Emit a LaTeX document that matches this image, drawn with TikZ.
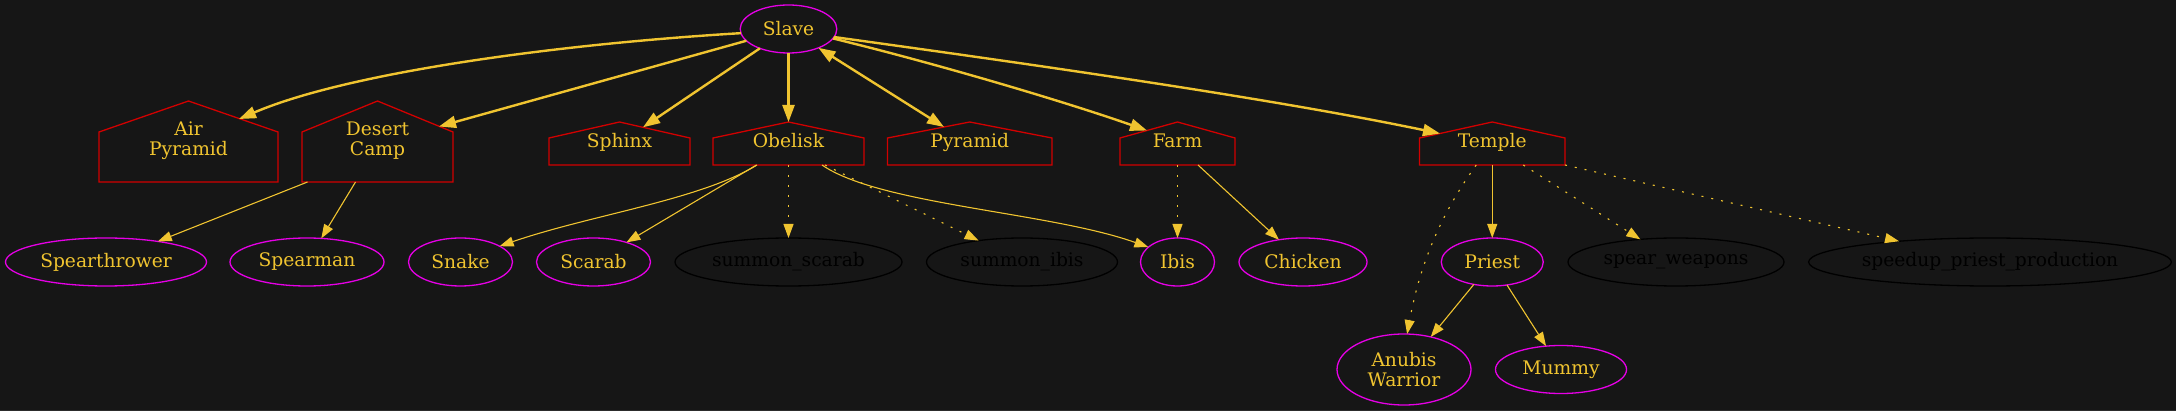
\documentclass[tikz,border=0pt]{standalone}
\usepackage{fontspec}
\setmainfont{DejaVu Serif}
\usetikzlibrary{arrows.meta,calc,shapes.geometric}
\definecolor{bg}{HTML}{161616}
\definecolor{gold}{HTML}{F0C430}
\definecolor{mag}{HTML}{E600E6}
\definecolor{hred}{HTML}{D20000}
\definecolor{edgegray}{HTML}{2C2C2C}
\newcommand\houseoutline[2]{\draw[houseline] (#1.south west) -- (#1.south east) -- ($(#1.north east)+(0,#2)$) -- (#1.north) -- ($(#1.north west)+(0,#2)$) -- cycle;}
\newcommand\htext[2]{\raisebox{#1}{\begin{tabular}{@{}c@{}}#2\end{tabular}}}
\begin{document}
\begin{tikzpicture}[x=1pt,y=-1pt,
  every node/.style={font=\fontsize{18.67}{20}\selectfont},
  unit/.style={ellipse, draw=mag, line width=1.3pt, text=gold, inner sep=0pt, outer sep=0pt, minimum height=48pt, align=center},
  tech/.style={ellipse, draw=black, line width=1.3pt, text=black, inner sep=0pt, outer sep=0pt, minimum height=48pt},
  hbox/.style={rectangle, draw=none, text=gold, inner sep=0pt, outer sep=0pt},
  houseline/.style={draw=hred, line width=1.3pt, line join=miter},
  sedge/.style={draw=gold, line width=2.4pt, -{Triangle[length=17pt,width=12pt]}},
  tedge/.style={draw=gold, line width=1.1pt, -{Triangle[length=14pt,width=10pt]}},
  dedge/.style={tedge, dash pattern=on 2pt off 8pt},
]
\useasboundingbox (0,0) rectangle (2176,411);
\fill[bg] (0,0) rectangle (2176,411);
\fill[edgegray] (0,409.5) rectangle (2176,411);

% top
\node[unit, minimum width=96.6pt] (slave) at (788.5,29) {Slave};

% houses
\node[hbox, minimum width=179pt, minimum height=81pt] (air) at (188.5,141.5) {\htext{-3.5pt}{Air\\Pyramid}};
\node[hbox, minimum width=151pt, minimum height=81pt] (dcamp) at (377.5,141.5) {\htext{-3.5pt}{Desert\\Camp}};
\node[hbox, minimum width=141pt, minimum height=43pt] (sphinx) at (619.5,143.5) {\htext{-1.5pt}{Sphinx}};
\node[hbox, minimum width=151pt, minimum height=43pt] (obel) at (788.5,143.5) {\htext{-1.5pt}{Obelisk}};
\node[hbox, minimum width=164.5pt, minimum height=43pt] (pyr) at (969.75,143.5) {\htext{-1.5pt}{Pyramid}};
\node[hbox, minimum width=115pt, minimum height=43pt] (farm) at (1177.5,143.5) {\htext{-1.5pt}{Farm}};
\node[hbox, minimum width=145.5pt, minimum height=43pt] (temple) at (1492.25,143.5) {\htext{-1.5pt}{Temple}};
\houseoutline{air}{31}
\houseoutline{dcamp}{31}
\houseoutline{sphinx}{16}
\houseoutline{obel}{16}
\houseoutline{pyr}{16}
\houseoutline{farm}{16}
\houseoutline{temple}{16}

% second row
\node[unit, minimum width=201pt] (spthr) at (106,262) {Spearthrower};
\node[unit, minimum width=154pt] (spman) at (307,262) {Spearman};
\node[unit, minimum width=104pt] (snake) at (460.5,262) {Snake};
\node[unit, minimum width=114pt] (scarab) at (593.5,262) {Scarab};
\node[tech, minimum width=227pt] (sscarab) at (788.5,262) {summon\_scarab};
\node[tech, minimum width=191pt] (sibis) at (1022,262) {summon\_ibis};
\node[unit, minimum width=74pt] (ibis) at (1177.5,262) {Ibis};
\node[unit, minimum width=128pt] (chicken) at (1303,262) {Chicken};
\node[unit, minimum width=102pt] (priest) at (1492.25,262) {Priest};
\node[tech, minimum width=216pt] (sweap) at (1676,262) {spear\_weapons};
\node[tech, minimum width=362pt] (speedup) at (1990,262) {speedup\_priest\_production};

% third row
\node[unit, minimum width=134pt, minimum height=71pt] (anubis) at (1404,369.5) {Anubis\\Warrior};
\node[unit, minimum width=131pt] (mummy) at (1561,369.5) {Mummy};

% edges from Slave
\draw[sedge] (slave.185) .. controls (560,44) and (349,72) .. ($(air.north)+(50.5,18)$);
\draw[sedge] (slave) -- ($(dcamp.north)+(61.5,25.5)$);
\draw[sedge] (slave) -- ($(sphinx.north)+(23.5,5.3)$);
\draw[sedge] (slave) -- (obel.north);
\draw[sedge,{Triangle[length=17pt,width=12pt]}-{Triangle[length=17pt,width=12pt]}] (slave) -- ($(pyr.north)+(-25.75,5)$);
\draw[sedge] (slave.-12) .. controls (930,62) and (1060,100) .. ($(farm.north)+(-30.5,8.5)$);
\draw[sedge] (slave.-10) .. controls (1000,60) and (1260,96) .. ($(temple.north)+(-52.25,11.5)$);

% lower edges
\draw[tedge] ($(dcamp.south west)+(5.5,0)$) -- (spthr);
\draw[tedge] ($(dcamp.south)+(-22,0)$) -- (spman);
\draw[tedge] ($(obel.south)+(-31.5,0)$) .. controls (700,200) and (590,215) .. (snake.22);
\draw[tedge] ($(obel.south)+(-32,0)$) -- (scarab);
\draw[dedge] (obel.south) -- (sscarab);
\draw[dedge] ($(obel.south)+(36.5,0)$) -- (sibis);
\draw[tedge] ($(obel.south)+(33.5,0)$) .. controls (880,205) and (1050,212) .. (ibis.153);
\draw[dedge] (farm.south) -- (ibis);
\draw[tedge] ($(farm.south)+(20.5,0)$) -- (chicken);
\draw[tedge] (temple.south) -- (priest);
\draw[dedge] ($(temple.south)+(-16,0)$) .. controls (1435,222) and (1418,275) .. (anubis.85);
\draw[dedge] ($(temple.south)+(31,0)$) -- (sweap);
\draw[dedge] (temple.south east) -- (speedup);
\draw[tedge] (priest) -- (anubis);
\draw[tedge] (priest) -- (mummy);
\end{tikzpicture}
\end{document}
